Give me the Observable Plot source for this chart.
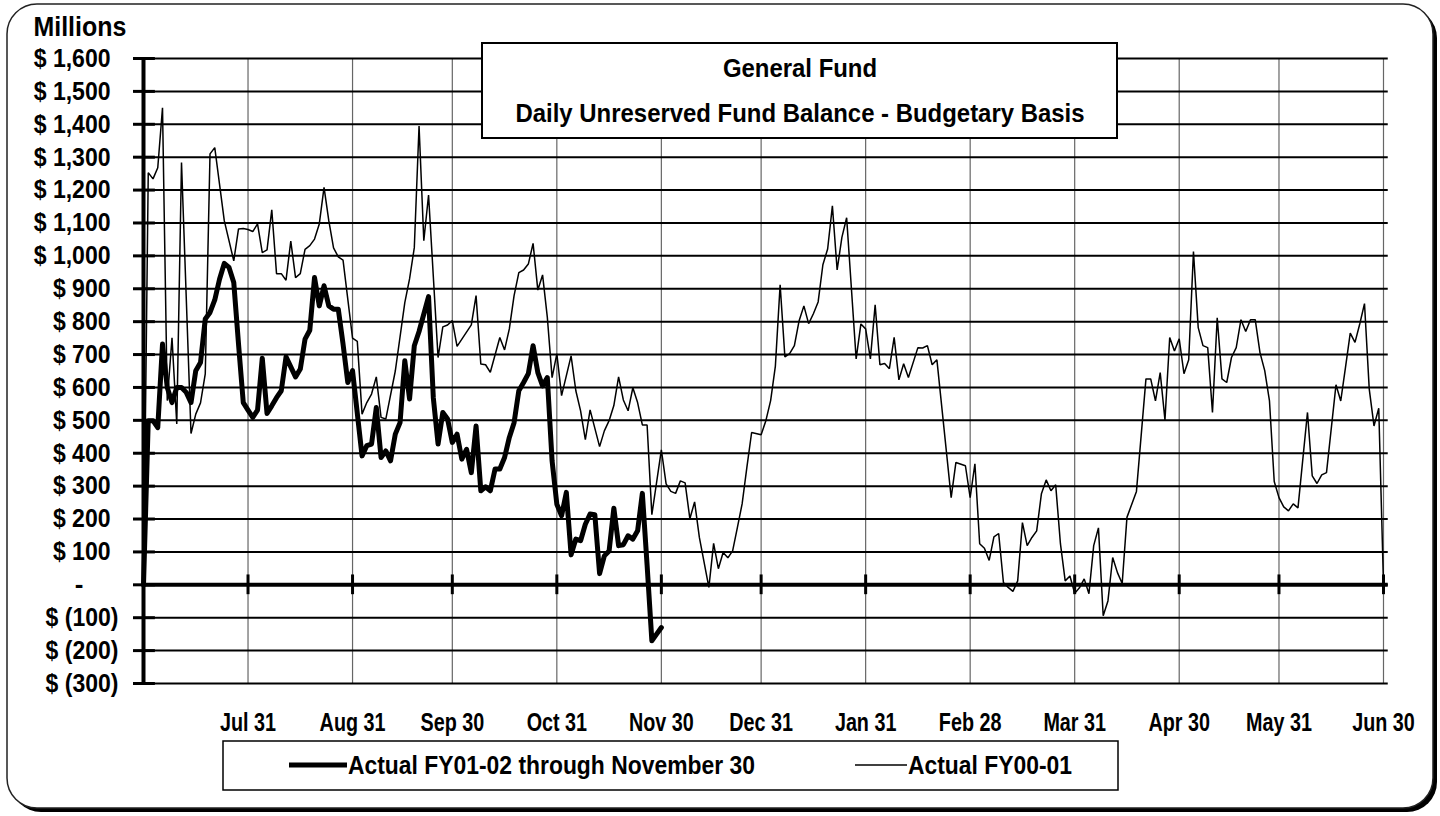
<!DOCTYPE html>
<html><head><meta charset="utf-8">
<script src="https://cdn.jsdelivr.net/npm/d3@7"></script>
<script src="https://cdn.jsdelivr.net/npm/@observablehq/plot@0.6"></script>
<style>
html,body{margin:0;padding:0;background:#fff;}
#chart svg{display:block;}
</style></head><body><div id="chart"></div>
<script>
// ---- DATA ----
// x = business-day index within the fiscal year (Jul 1 = 0 ... Jun 30 = 261), y = $ millions
const monthTicks = [22, 44, 65, 87, 109, 130, 152, 174, 196, 218, 239, 261];
const monthLabels = ["Jul 31","Aug 31","Sep 30","Oct 31","Nov 30","Dec 31","Jan 31","Feb 28","Mar 31","Apr 30","May 31","Jun 30"];
const yTicks = [-300,-200,-100,0,100,200,300,400,500,600,700,800,900,1000,1100,1200,1300,1400,1500,1600];

const fy0102 = [[0,0],[1,499],[2,499],[3,478],[4,732],[5,600],[6,554],[7,600],[8,600],[9,585],[10,554],[11,651],[12,676],[13,808],[14,828],[15,866],[16,929],[17,977],[18,965],[19,919],[20,732],[21,554],[22,531],[23,509],[24,531],[25,689],[26,521],[27,544],[28,569],[29,590],[30,693],
[32,632],[33,656],[34,747],[35,774],[36,934],[37,848],[38,909],[39,848],[40,838],[41,838],[42,732],[43,615],[44,651],
[46,392],[47,423],[48,428],[49,539],[50,387],[51,407],[52,377],[53,458],[54,493],[55,681],[56,565],[57,727],[58,770],
[60,876],[61,569],[62,428],[63,524],[64,504],[65,433],[66,458],[67,382],[68,412],[69,341],[70,483],[71,286],[72,298],[73,286],[74,352],[75,352],[76,387],[77,448],[78,493],[79,590],[80,615],[81,642],[82,727],[83,645],[84,605],[85,630],[86,377],[87,245],[88,210],[89,281],[90,91],[91,139],[92,134],[93,184],[94,215],[95,213],[96,34],[97,88],[98,103],[99,233],[100,119],[101,122],[102,149],[103,139],[104,164],[105,278],[106,60],[107,-170],[108,-150],[109,-130]];

const fy0001 = [[0,0],[1,1253],[2,1234],[3,1268],[4,1450],[5,560],[6,751],[7,489],[8,1284],[10,460],[11,519],[12,553],[13,641],[14,1310],[15,1329],[16,1218],[17,1107],[19,985],[20,1082],[21,1083],[22,1080],[23,1074],[24,1097],[25,1010],[26,1018],[27,1140],[28,946],[29,946],[30,926],[31,1045],[32,934],[33,946],[34,1020],[35,1031],[36,1051],[37,1097],[38,1208],[39,1107],[40,1024],[41,997],[42,987],[44,750],[45,740],[46,519],[47,554],[48,580],[49,632],[50,509],[51,504],[53,650],[55,858],[56,930],[57,1025],[58,1395],[59,1046],[60,1185],[62,691],[63,784],[64,790],[65,803],[66,725],[69,790],[70,879],[71,671],[72,669],[73,646],[75,752],[76,714],[77,778],[78,879],[79,949],[80,957],[81,975],[82,1038],[83,896],[84,942],[85,813],[86,630],[87,702],[88,575],[90,696],[91,590],[92,529],[93,441],[94,532],[96,420],[97,468],[98,499],[99,545],[100,632],[101,562],[102,529],[103,599],[104,554],[105,486],[106,486],[107,213],[109,410],[110,307],[111,284],[112,278],[113,316],[114,310],[115,201],[116,252],[117,144],[119,-8],[120,126],[121,49],[122,98],[123,82],[124,103],[125,174],[126,246],[127,357],[128,463],[130,456],[131,499],[132,560],[133,665],[134,912],[135,693],[136,703],[137,727],[138,803],[139,848],[140,794],[141,824],[142,860],[143,973],[144,1021],[145,1152],[146,957],[147,1056],[148,1116],[150,687],[151,793],[152,778],[153,687],[154,851],[155,669],[156,673],[157,657],[158,752],[159,623],[160,672],[161,630],[163,721],[164,720],[165,727],[166,669],[167,684],[170,265],[171,372],[173,362],[174,265],[175,368],[176,125],[177,111],[178,74],[179,146],[180,156],[181,7],[182,-8],[183,-20],[184,12],[185,189],[186,119],[187,144],[188,164],[189,277],[190,319],[191,286],[192,304],[193,125],[194,12],[195,27],[196,-26],[197,-9],[198,18],[199,-27],[200,119],[201,173],[202,-94],[203,-49],[204,83],[205,37],[206,4],[207,205],[209,284],[211,626],[212,626],[213,559],[214,645],[215,501],[216,752],[217,711],[218,748],[219,642],[220,684],[221,1013],[222,782],[223,727],[224,721],[225,524],[226,812],[227,626],[228,615],[229,691],[230,721],[231,806],[232,770],[233,806],[234,806],[235,706],[236,651],[237,559],[238,314],[239,265],[240,237],[241,225],[242,246],[243,234],[245,524],[246,331],[247,308],[248,334],[249,341],[251,608],[252,559],[253,661],[254,765],[255,737],[256,793],[257,855],[258,595],[259,483],[260,537],[261,0]];

const titleLines = ["General Fund", "Daily Unreserved Fund Balance - Budgetary Basis"];
const seriesNames = ["Actual FY01-02 through November 30", "Actual FY00-01"];

// ---- CHART ----
const FONT = "'Liberation Sans Narrow','Arial Narrow','Liberation Sans',Arial,sans-serif";
const W = 1440, H = 816;
const fmt = d3.format(",");
const lbl = {fontSize: 26, fontWeight: "bold", fill: "#000"};

const chart = Plot.plot({
  width: W, height: H,
  marginLeft: 143, marginRight: 57, marginTop: 58, marginBottom: 133,
  style: {fontFamily: FONT, background: "transparent", overflow: "visible", color: "#000"},
  x: {domain: [0, 261], axis: null},
  y: {domain: [-300, 1600], axis: null},
  marks: [
    Plot.ruleX(monthTicks, {stroke: "#666", strokeWidth: 1.2}),
    Plot.ruleY(yTicks, {x1: 0, x2: 262, stroke: "#000", strokeWidth: 2}),
    Plot.ruleY([0], {x1: 0, x2: 262, stroke: "#000", strokeWidth: 4}),
    Plot.ruleX(monthTicks, {y1: -30, y2: 30, stroke: "#000", strokeWidth: 3}),
    Plot.ruleY(yTicks, {x1: -2.1, x2: 2.5, stroke: "#000", strokeWidth: 3}),
    Plot.ruleX([0], {stroke: "#000", strokeWidth: 4}),
    Plot.line(fy0001, {x: d => d[0], y: d => d[1], stroke: "#000", strokeWidth: 1.5, strokeLinejoin: "miter"}),
    Plot.line(fy0102, {x: d => d[0], y: d => d[1], stroke: "#000", strokeWidth: 5, strokeLinejoin: "round"}),
    Plot.text(yTicks.filter(v => v > 0), {y: d => d, text: d => "$ " + fmt(d), frameAnchor: "left", dx: -33, textAnchor: "end", ...lbl}),
    Plot.text(yTicks.filter(v => v < 0), {y: d => d, text: d => "$ (" + fmt(-d) + ")", frameAnchor: "left", dx: -25, textAnchor: "end", ...lbl}),
    Plot.text(yTicks.filter(v => v === 0), {y: d => d, text: d => "-", frameAnchor: "left", dx: -60, textAnchor: "end", ...lbl}),
    Plot.text(["Millions"], {frameAnchor: "top-left", dx: -110, dy: -31, lineAnchor: "middle", textAnchor: "start", text: d => d, ...lbl, fontSize: 28}),
    Plot.text(monthTicks, {x: d => d, text: monthLabels, frameAnchor: "bottom", dy: 39, lineAnchor: "middle", ...lbl})
  ]
});

const svg = d3.select(chart);
// rounded frame with shadow, behind everything
const bg = svg.insert("g", ":first-child");
bg.append("rect").attr("x", 11).attr("y", 8).attr("width", 1426).attr("height", 804).attr("rx", 30).attr("fill", "#000");
bg.append("rect").attr("x", 7).attr("y", 4).attr("width", 1426).attr("height", 804).attr("rx", 30).attr("fill", "#fff").attr("stroke", "#222").attr("stroke-width", 1.5);

// title box
const tb = svg.append("g").attr("font-family", FONT).attr("font-weight", "bold").attr("fill", "#000").attr("text-anchor", "middle");
tb.append("rect").attr("x", 482).attr("y", 43).attr("width", 635).attr("height", 95).attr("fill", "#fff").attr("stroke", "#000").attr("stroke-width", 2);
const t1 = tb.append("text").attr("x", 800).attr("y", 68).attr("dy", "0.35em").attr("font-size", 26).text(titleLines[0]);
const t2 = tb.append("text").attr("x", 800).attr("y", 113).attr("dy", "0.35em").attr("font-size", 26).text(titleLines[1]);

// legend box
const lg = svg.append("g").attr("font-family", FONT).attr("font-weight", "bold").attr("fill", "#000").attr("text-anchor", "start");
lg.append("rect").attr("x", 223).attr("y", 741).attr("width", 895).attr("height", 49).attr("fill", "#fff").attr("stroke", "#000").attr("stroke-width", 1.5);
lg.append("line").attr("x1", 289).attr("x2", 347).attr("y1", 765).attr("y2", 765).attr("stroke", "#000").attr("stroke-width", 5);
const l1 = lg.append("text").attr("x", 348).attr("y", 765).attr("dy", "0.35em").attr("font-size", 26).text(seriesNames[0]);
lg.append("line").attr("x1", 855).attr("x2", 907).attr("y1", 765).attr("y2", 765).attr("stroke", "#000").attr("stroke-width", 1.5);
const l2 = lg.append("text").attr("x", 908).attr("y", 765).attr("dy", "0.35em").attr("font-size", 26).text(seriesNames[1]);

document.getElementById("chart").appendChild(chart);

// condense the lettering horizontally (the original uses a narrow bold face)
function squeeze(nodes, f) {
  nodes.forEach(t => {
    const w = t.getComputedTextLength();
    if (w > 0) { t.setAttribute("textLength", (w * f).toFixed(1)); t.setAttribute("lengthAdjust", "spacingAndGlyphs"); }
  });
}
const groups = svg.selectAll('g[aria-label="text"]').nodes();
// order: positive y labels, negative y labels, zero, Millions, month labels
squeeze(d3.select(groups[0]).selectAll("text").nodes(), 0.885);
squeeze(d3.select(groups[1]).selectAll("text").nodes(), 0.885);
squeeze(d3.select(groups[3]).selectAll("text").nodes(), 0.89);
squeeze(d3.select(groups[4]).selectAll("text").nodes(), 0.76);
squeeze([t1.node(), t2.node()], 0.92);
squeeze([l1.node(), l2.node()], 0.88);
</script></body></html>
